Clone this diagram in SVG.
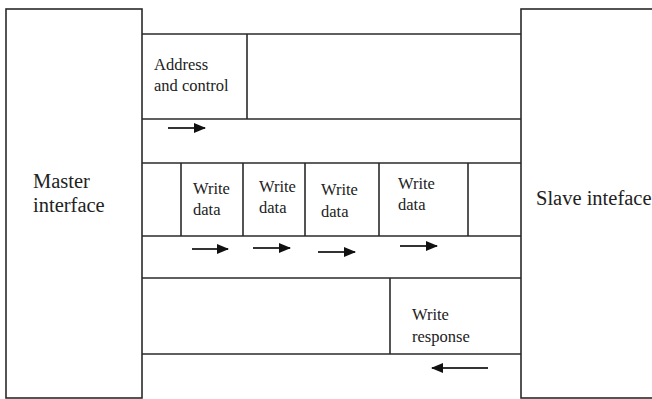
<svg xmlns="http://www.w3.org/2000/svg" width="652" height="399" viewBox="0 0 652 399">
<style>
.b{fill:none;stroke:#2a2a2a;stroke-width:1.6}
.t{font-family:'Liberation Serif','Times New Roman','DejaVu Serif',serif;font-size:16.5px;fill:#222}
.tl{font-family:'Liberation Serif','Times New Roman','DejaVu Serif',serif;font-size:20.5px;fill:#222}
.a{stroke:#333;stroke-width:2;fill:none}
</style>
<defs>
<marker id="ah" markerWidth="12" markerHeight="10" refX="11" refY="5" orient="auto" markerUnits="userSpaceOnUse">
<path d="M0,0 L12,5 L0,10 Z" fill="#111"/>
</marker>
</defs>
<rect width="652" height="399" fill="#fff"/>
<g id="master">
<rect class="b" x="6" y="9" width="136" height="389"/>
<text class="tl" font-family="Liberation Serif, serif" x="33" y="188">Master</text>
<text class="tl" font-family="Liberation Serif, serif" x="33" y="212">interface</text>
</g>
<g id="slave">
<rect class="b" x="521" y="9" width="140" height="389"/>
<text class="tl" font-family="Liberation Serif, serif" x="536" y="205">Slave inteface</text>
</g>
<g id="channels">
<line class="b" x1="142" y1="34" x2="521" y2="34"/>
<line class="b" x1="142" y1="119" x2="521" y2="119"/>
<line class="b" x1="142" y1="163" x2="521" y2="163"/>
<line class="b" x1="142" y1="236" x2="521" y2="236"/>
<line class="b" x1="142" y1="278" x2="521" y2="278"/>
<line class="b" x1="142" y1="354" x2="521" y2="354"/>
</g>
<g id="address">
<line class="b" x1="247" y1="34" x2="247" y2="119"/>
<text class="t" x="154" y="70">Address</text>
<text class="t" x="154" y="91">and control</text>
</g>
<g id="write-data-1">
<line class="b" x1="181" y1="163" x2="181" y2="236"/>
<line class="b" x1="243" y1="163" x2="243" y2="236"/>
<text class="t" x="193" y="194">Write</text>
<text class="t" x="193" y="215">data</text>
</g>
<g id="write-data-2">
<line class="b" x1="305" y1="163" x2="305" y2="236"/>
<text class="t" x="259" y="192">Write</text>
<text class="t" x="259" y="213">data</text>
</g>
<g id="write-data-3">
<line class="b" x1="379" y1="163" x2="379" y2="236"/>
<text class="t" x="321" y="195">Write</text>
<text class="t" x="321" y="217">data</text>
</g>
<g id="write-data-4">
<line class="b" x1="468" y1="163" x2="468" y2="236"/>
<text class="t" x="398" y="189">Write</text>
<text class="t" x="398" y="210">data</text>
</g>
<g id="write-response">
<line class="b" x1="390" y1="278" x2="390" y2="354"/>
<text class="t" x="412" y="320">Write</text>
<text class="t" x="412" y="342">response</text>
</g>
<g id="connectors">
<line class="a" x1="168" y1="128" x2="205" y2="128" marker-end="url(#ah)"/>
<line class="a" x1="192" y1="249" x2="228" y2="249" marker-end="url(#ah)"/>
<line class="a" x1="253" y1="248" x2="290" y2="248" marker-end="url(#ah)"/>
<line class="a" x1="318" y1="252" x2="355" y2="252" marker-end="url(#ah)"/>
<line class="a" x1="400" y1="246" x2="437" y2="246" marker-end="url(#ah)"/>
<line class="a" x1="488" y1="368" x2="432" y2="368" marker-end="url(#ah)"/>
</g>
</svg>
